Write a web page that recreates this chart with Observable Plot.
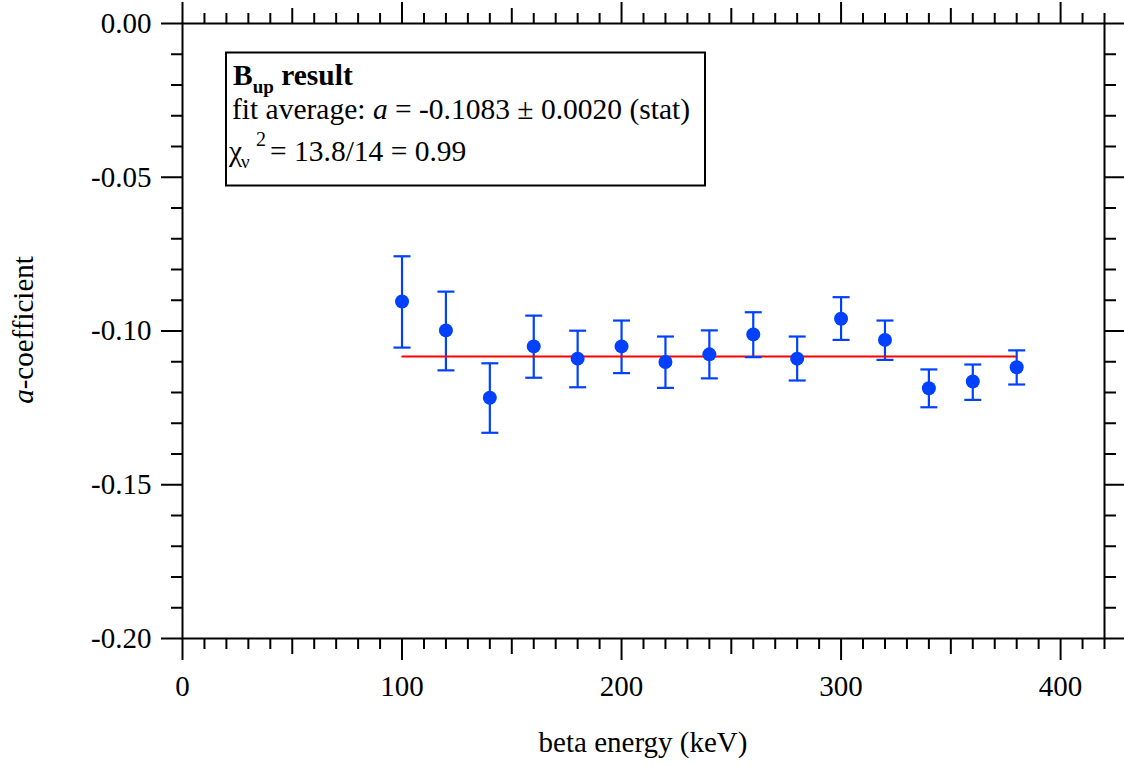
<!DOCTYPE html>
<html>
<head>
<meta charset="utf-8">
<script src="https://cdn.jsdelivr.net/npm/d3@7"></script>
<script src="https://cdn.jsdelivr.net/npm/@observablehq/plot@0.6"></script>
<style>
  html, body { margin: 0; padding: 0; background: white; }
  svg { display: block; }
  #chart svg, #chart svg text { font-family: "Liberation Serif", "Times New Roman", serif; }
</style>
</head>
<body>
<div id="chart"></div>
<script>
// ---- data ----
const energy = [100, 120, 140, 160, 180, 200, 220, 240, 260, 280, 300, 320, 340, 360, 380];
const aValue = [-0.0904, -0.0998, -0.1217, -0.1050, -0.1090, -0.1050, -0.1101, -0.1076, -0.1011, -0.1090, -0.0960, -0.1029, -0.1186, -0.1164, -0.1118];
const aUpper = [-0.0757, -0.0872, -0.1105, -0.0950, -0.0999, -0.0966, -0.1018, -0.0998, -0.0939, -0.1018, -0.0890, -0.0966, -0.1125, -0.1109, -0.1063];
const aLower = [-0.1054, -0.1128, -0.1331, -0.1152, -0.1183, -0.1137, -0.1185, -0.1154, -0.1085, -0.1161, -0.1029, -0.1094, -0.1248, -0.1224, -0.1174];
const fitA = -0.1083;

const xMajor = [0, 100, 200, 300, 400];
const xMid = [50, 150, 250, 350];
const xMinor = d3.range(0, 421, 10).filter(v => v % 50 !== 0);
const yMajor = [0, -0.05, -0.10, -0.15, -0.20];
const yMinor = d3.range(-20, 1).filter(i => i % 5 !== 0).map(i => i / 100);

const xLabel = "beta energy (keV)";
const yLabelItalic = "a";
const yLabelRest = "-coefficient";

const rows = energy.map((e, i) => ({energy: e, a: aValue[i], upper: aUpper[i], lower: aLower[i]}));
const fitRow = [{a: fitA, x1: d3.min(energy), x2: d3.max(energy)}];

const blue = "#0040ff";
const capSymbol = {
  draw(context, size) {
    const w = Math.sqrt(size / Math.PI);
    context.moveTo(-w, 0);
    context.lineTo(w, 0);
  }
};

const blank = () => "";
const sw = 2;
const font = "Liberation Serif";

const chart = Plot.plot({
  width: 1124,
  height: 766,
  marginLeft: 182,
  marginRight: 20,
  marginTop: 23,
  marginBottom: 128,
  style: {fontFamily: font, fontSize: "29px", background: "white", color: "black"},
  x: {domain: [0, 420]},
  y: {domain: [-0.2, 0]},
  marks: [
    // bottom axis
    Plot.axisX(xMinor, {anchor: "bottom", tickSize: 11, tickFormat: blank, label: null, strokeWidth: sw}),
    Plot.axisX(xMid, {anchor: "bottom", tickSize: 16, tickFormat: blank, label: null, strokeWidth: sw}),
    Plot.axisX(xMajor, {anchor: "bottom", tickSize: 22, tickPadding: 15, tickFormat: d => String(d), label: null, strokeWidth: sw, fill: "black"}),
    // top axis
    Plot.axisX(xMinor, {anchor: "top", tickSize: 11, tickFormat: blank, label: null, strokeWidth: sw}),
    Plot.axisX(xMid, {anchor: "top", tickSize: 16, tickFormat: blank, label: null, strokeWidth: sw}),
    Plot.axisX(xMajor, {anchor: "top", tickSize: 22, tickFormat: blank, label: null, strokeWidth: sw}),
    // left axis
    Plot.axisY(yMinor, {anchor: "left", tickSize: 11, tickFormat: blank, label: null, strokeWidth: sw}),
    Plot.axisY(yMajor, {anchor: "left", tickSize: 21, tickPadding: 10, tickFormat: d => d.toFixed(2), label: null, strokeWidth: sw, fill: "black"}),
    // right axis
    Plot.axisY(yMinor, {anchor: "right", tickSize: 11, tickFormat: blank, label: null, strokeWidth: sw}),
    Plot.axisY(yMajor, {anchor: "right", tickSize: 21, tickFormat: blank, label: null, strokeWidth: sw}),
    Plot.frame({stroke: "black", strokeWidth: sw}),
    // error bars
    Plot.ruleX(rows, {x: "energy", y1: "lower", y2: "upper", stroke: blue, strokeWidth: 2.2}),
    // fit line
    Plot.ruleY(fitRow, {y: "a", x1: "x1", x2: "x2", stroke: "#ff0000", strokeWidth: 2.2}),
    // caps
    Plot.dot(rows, {x: "energy", y: "upper", symbol: capSymbol, r: 8.5, stroke: blue, strokeWidth: 2.2, fill: "none"}),
    Plot.dot(rows, {x: "energy", y: "lower", symbol: capSymbol, r: 8.5, stroke: blue, strokeWidth: 2.2, fill: "none"}),
    // points
    Plot.dot(rows, {x: "energy", y: "a", r: 7, fill: blue, stroke: "none"})
  ]
});

document.getElementById("chart").appendChild(chart);

// ---- annotations ----
const svg = d3.select(chart);

// axis labels
svg.append("text")
  .attr("x", 643).attr("y", 752)
  .attr("text-anchor", "middle")
  .attr("font-family", font).attr("font-size", 29).attr("fill", "black")
  .text(xLabel);

const yl = svg.append("text")
  .attr("transform", "translate(33,330) rotate(-90)")
  .attr("text-anchor", "middle")
  .attr("font-family", font).attr("font-size", 29).attr("fill", "black");
yl.append("tspan").attr("font-style", "italic").text(yLabelItalic);
yl.append("tspan").text(yLabelRest);

// result box
const g = svg.append("g").attr("font-family", font).attr("fill", "black").attr("text-anchor", "start");
g.append("rect")
  .attr("x", 226).attr("y", 52.5).attr("width", 479).attr("height", 133)
  .attr("fill", "white").attr("stroke", "black").attr("stroke-width", 2);

const t1 = g.append("text").attr("x", 233).attr("y", 85).attr("font-size", 29.5).attr("font-weight", "bold").attr("text-anchor", "start");
t1.append("tspan").text("B");
t1.append("tspan").attr("font-size", 19).attr("dy", 8).text("up");
t1.append("tspan").attr("dy", -8).text(" result");

const t2 = g.append("text").attr("x", 232).attr("y", 119).attr("font-size", 29.5).attr("text-anchor", "start");
t2.append("tspan").text("fit average: ");
t2.append("tspan").attr("font-style", "italic").text("a");
t2.append("tspan").text(" = -0.1083 \u00b1 0.0020 (stat)");

g.append("text").attr("x", 229).attr("y", 161).attr("font-size", 29.5).attr("text-anchor", "start").text("\u03c7");
g.append("text").attr("x", 241).attr("y", 168).attr("font-size", 19).attr("text-anchor", "start").text("\u03bd");
g.append("text").attr("x", 256).attr("y", 146).attr("font-size", 20).attr("text-anchor", "start").text("2");
g.append("text").attr("x", 270).attr("y", 161).attr("font-size", 29.5).attr("text-anchor", "start").text("= 13.8/14 = 0.99");
</script>
</body>
</html>
